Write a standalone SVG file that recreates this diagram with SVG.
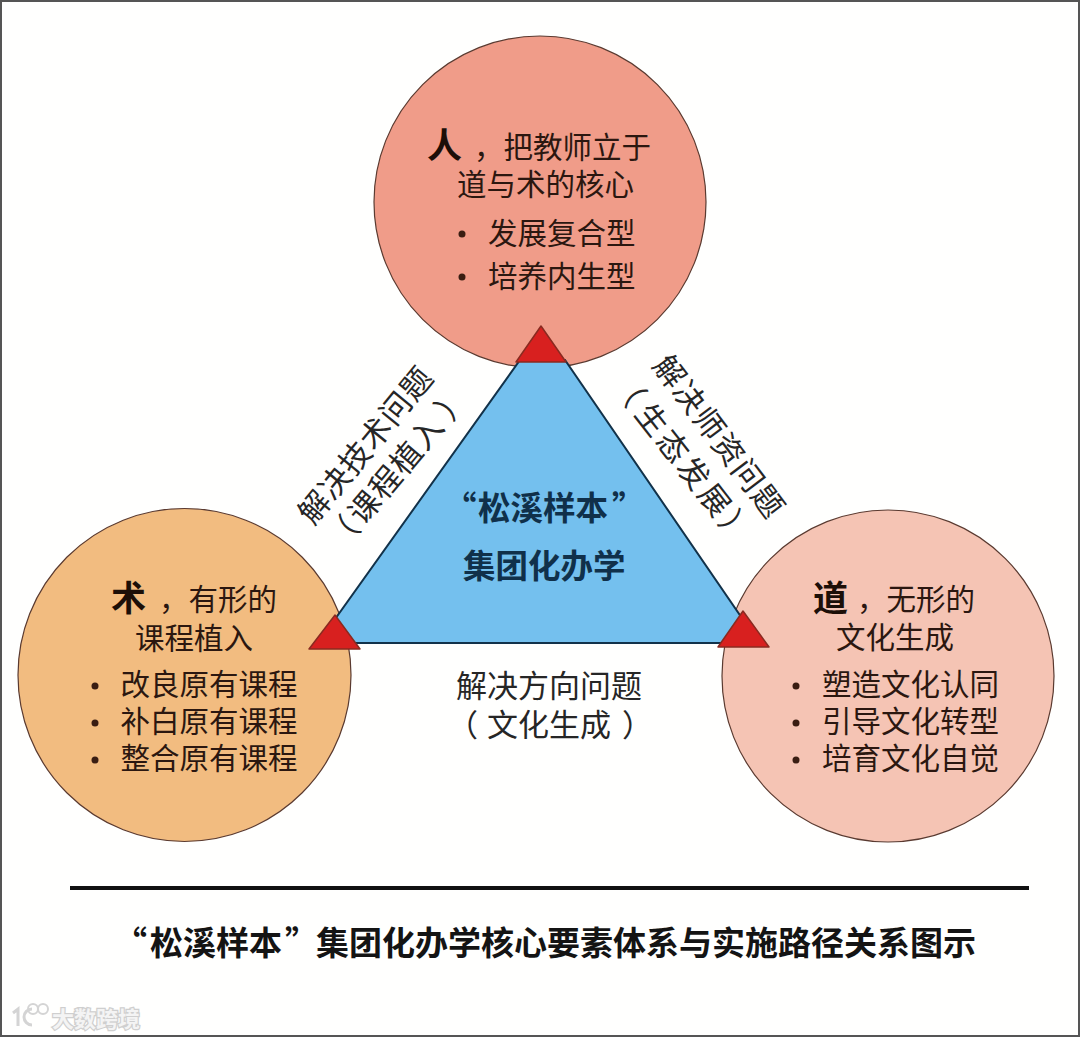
<svg xmlns="http://www.w3.org/2000/svg" width="1080" height="1037" viewBox="0 0 1080 1037">
<style>
text{font-family:"Noto Sans CJK SC","Noto Sans",sans-serif;fill:#2b1710}
.c{stroke:#5a3a30;stroke-width:1.2}
.b{font-size:29.5px;font-weight:400}
.h{font-size:35px;font-weight:700;fill:#1c0f08}
.d{fill:#3a1d12}
.r{fill:#d8201f;stroke:#8a2a20;stroke-width:1.5;stroke-linejoin:round}
.t{font-size:33px;font-weight:700;fill:#141414}
.k{font-size:32.5px;fill:#10304a;font-weight:700}
.l{font-size:31px;fill:#262626}
.w{font-size:22px;font-weight:700;fill:#f4f4f4;stroke:#cfcfcf;stroke-width:2.5;paint-order:stroke}
</style>
<rect width="1080" height="1037" fill="#fffffe"/>
<rect x="1" y="1" width="1078" height="1035" fill="none" stroke="#555" stroke-width="2"/>

<g id="node-ren">
<circle class="c" cx="540" cy="202" r="166" fill="#f09c89"/>
<text class="h" x="427" y="158">人</text>
<text class="b" x="474" y="158">，把教师立于</text>
<text class="b" x="457" y="195">道与术的核心</text>
<circle class="d" cx="462" cy="234" r="3.5"/>
<text class="b" x="488" y="244">发展复合型</text>
<circle class="d" cx="462" cy="277" r="3.5"/>
<text class="b" x="488" y="287">培养内生型</text>
</g>

<g id="node-shu">
<circle class="c" cx="184.5" cy="675" r="166.5" fill="#f2bc80"/>
<text class="h" x="111" y="611">术</text>
<text class="b" x="159" y="610">，有形的</text>
<text class="b" x="135" y="649">课程植入</text>
<circle class="d" cx="95" cy="686" r="3.5"/>
<text class="b" x="120.5" y="695">改良原有课程</text>
<circle class="d" cx="95" cy="723" r="3.5"/>
<text class="b" x="120.5" y="732">补白原有课程</text>
<circle class="d" cx="95" cy="760" r="3.5"/>
<text class="b" x="120.5" y="769">整合原有课程</text>
</g>

<g id="node-dao">
<circle class="c" cx="888" cy="676" r="166" fill="#f5c4b4"/>
<text class="h" x="813" y="611">道</text>
<text class="b" x="857" y="610">，无形的</text>
<text class="b" x="836" y="648">文化生成</text>
<circle class="d" cx="796" cy="686" r="3.5"/>
<text class="b" x="822" y="695">塑造文化认同</text>
<circle class="d" cx="796" cy="723" r="3.5"/>
<text class="b" x="822" y="732">引导文化转型</text>
<circle class="d" cx="796" cy="760" r="3.5"/>
<text class="b" x="822" y="769">培育文化自觉</text>
</g>

<g id="node-center">
<polygon points="520,360 565,360 759,643 318,643" fill="#74c0ee" stroke="#12324a" stroke-width="2"/>
<text class="k" x="444 478 510.5 543 575.5 612" y="520">“松溪样本”</text>
<text class="k" x="463" y="578">集团化办学</text>
</g>

<g id="connectors">
<polygon class="r" points="541,326 566,362 516,362"/>
<polygon class="r" points="335,615 360,649 309,649"/>
<polygon class="r" points="743,611 769,647 718,647"/>
</g>

<g id="labels">
<text class="l" transform="translate(315,507) rotate(-50.6)" x="-16 16 48 80 112 144" y="11">解决技术问题</text>
<text class="l" transform="translate(365,507) rotate(-50)" x="-50 -16 16.3 48.6 81 120.5" y="11">（课程植入）</text>
<text class="l" transform="translate(670,372) rotate(53)" x="-16 16.5 49 81.5 114 146.5" y="11">解决师资问题</text>
<text class="l" transform="translate(652,420) rotate(52)" x="-54 -16 18 52 86 121" y="11">（生态发展）</text>
<text class="l" x="456" y="697">解决方向问题</text>
<text class="l" x="447 487 518 549 580 622" y="736">（文化生成）</text>
</g>

<g id="caption">
<rect x="70" y="886" width="959" height="4" fill="#111"/>
<text class="t" x="114 150 183 216 249 285 316" y="955">“松溪样本”集团化办学核心要素体系与实施路径关系图示</text>
</g>

<g id="watermark">
<path d="M13 1013 l5 -4 v17 M32 1009 a8 8 0 1 0 0 16" fill="none" stroke="#d4d4d4" stroke-width="3"/>
<circle cx="33" cy="1009" r="5" fill="none" stroke="#d4d4d4" stroke-width="2"/>
<circle cx="43" cy="1009" r="5" fill="none" stroke="#d4d4d4" stroke-width="2"/>
<text class="w" x="52" y="1027">大数跨境</text>
</g>
</svg>
